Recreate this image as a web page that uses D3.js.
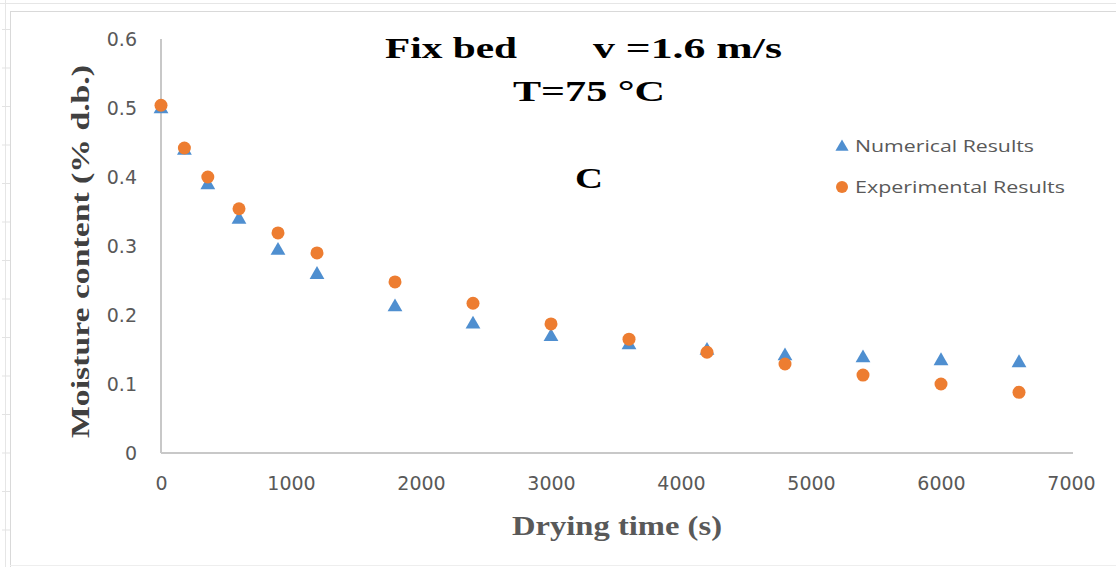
<!DOCTYPE html>
<html><head><meta charset="utf-8">
<script src="https://cdn.jsdelivr.net/npm/d3@7"></script>
<style>body{margin:0;background:#fff}svg{display:block}</style>
</head><body>
<svg id="c" width="1116" height="567"></svg>
<script>
const times = [0,180,360,600,900,1200,1800,2400,3000,3600,4200,4800,5400,6000,6600];
const numerical = [0.500,0.440,0.390,0.340,0.295,0.260,0.213,0.188,0.170,0.158,0.150,0.142,0.139,0.135,0.132];
const experimental = [0.504,0.442,0.400,0.354,0.319,0.290,0.248,0.217,0.187,0.165,0.146,0.129,0.113,0.100,0.088];
const xTicks = [0,1000,2000,3000,4000,5000,6000,7000];
const yTicks = [0,0.1,0.2,0.3,0.4,0.5,0.6];
const seriesNames = ["Numerical Results","Experimental Results"];

const svg = d3.select("#c");
const x = d3.scaleLinear().domain([0,7000]).range([161,1071]);
const y = d3.scaleLinear().domain([0,0.6]).range([453,39]);

// outer frame (spreadsheet remnants)
const fc = "#d9d9d9";
svg.append("line").attr("x1",0).attr("x2",1116).attr("y1",3.5).attr("y2",3.5).attr("stroke","#e6e6e6");
svg.append("line").attr("x1",10).attr("x2",1116).attr("y1",11.5).attr("y2",11.5).attr("stroke",fc);
svg.append("line").attr("x1",5.5).attr("x2",5.5).attr("y1",0).attr("y2",567).attr("stroke","#e6e6e6");
svg.append("line").attr("x1",10.5).attr("x2",10.5).attr("y1",11).attr("y2",567).attr("stroke",fc);
svg.append("line").attr("x1",10).attr("x2",1116).attr("y1",565.5).attr("y2",565.5).attr("stroke","#eeeeee");
svg.append("g").selectAll("line").data(d3.range(14)).join("line")
  .attr("x1",2).attr("x2",10).attr("y1",d=>29.5+d*38.5).attr("y2",d=>29.5+d*38.5)
  .attr("stroke","#e3e3e3");

// axes
const xAxis = d3.axisBottom(x).tickValues(xTicks).tickSize(0).tickPadding(24).tickFormat(d3.format("d"));
const yAxis = d3.axisLeft(y).tickValues(yTicks).tickSize(0).tickPadding(24).tickFormat(d=> d===0?"0":d3.format(".1f")(d));
const gx = svg.append("g").attr("transform","translate(0,453)").call(xAxis);
const gy = svg.append("g").attr("transform","translate(161,0)").call(yAxis);
[gx,gy].forEach(g=>{
  g.select(".domain").attr("stroke","#c8c8c8").attr("stroke-width",2);
  g.selectAll("text").attr("font-family","DejaVu Sans").attr("font-size",19).attr("fill","#595959");
});
gx.select(".domain").attr("d","M161,0H1073");
gy.select(".domain").attr("d","M0,39V453");
gy.selectAll("text").attr("dy","0.35em");

// series
const tri = d3.symbol().type(d3.symbolTriangle).size(95);
svg.append("g").selectAll("path").data(times).join("path")
  .attr("d",tri)
  .attr("transform",(d,i)=>`translate(${x(d)},${y(numerical[i])+1})`)
  .attr("fill","#4f8fd0");
svg.append("g").selectAll("circle").data(times).join("circle")
  .attr("cx",d=>x(d)).attr("cy",(d,i)=>y(experimental[i]))
  .attr("r",6.5).attr("fill","#ed7d31");

// titles
const serif = "Liberation Serif";
function t(txt,xx,yy,size,len,fill){
  return svg.append("text").attr("x",xx).attr("y",yy).text(txt)
    .attr("font-family",serif).attr("font-weight","bold").attr("font-size",size)
    .attr("fill",fill||"#000").attr("textLength",len).attr("lengthAdjust","spacingAndGlyphs");
}
t("Fix bed",385,58,30,132);
t("v =1.6 m/s",593,58,30,189);
t("T=75 °C",513,101,30,152);
t("C",575,188,30,28);
t("Drying time (s)",512,535,27,210,"#595959");
svg.append("text").attr("transform","translate(89,438) rotate(-90)").text("Moisture content (% d.b.)")
  .attr("font-family",serif).attr("font-weight","bold").attr("font-size",25)
  .attr("fill","#404040").attr("textLength",373).attr("lengthAdjust","spacingAndGlyphs");

// legend
const lg = svg.append("g");
lg.append("path").attr("d",d3.symbol().type(d3.symbolTriangle).size(75))
  .attr("transform","translate(842,147)").attr("fill","#4f8fd0");
lg.append("circle").attr("cx",842).attr("cy",187).attr("r",6).attr("fill","#ed7d31");
lg.append("text").attr("x",855).attr("y",152).text(seriesNames[0])
  .attr("font-family","Open Sans").attr("font-size",17).attr("fill","#595959")
  .attr("textLength",179).attr("lengthAdjust","spacingAndGlyphs");
lg.append("text").attr("x",855).attr("y",193).text(seriesNames[1])
  .attr("font-family","Open Sans").attr("font-size",17).attr("fill","#595959")
  .attr("textLength",210).attr("lengthAdjust","spacingAndGlyphs");
</script>
</body></html>
